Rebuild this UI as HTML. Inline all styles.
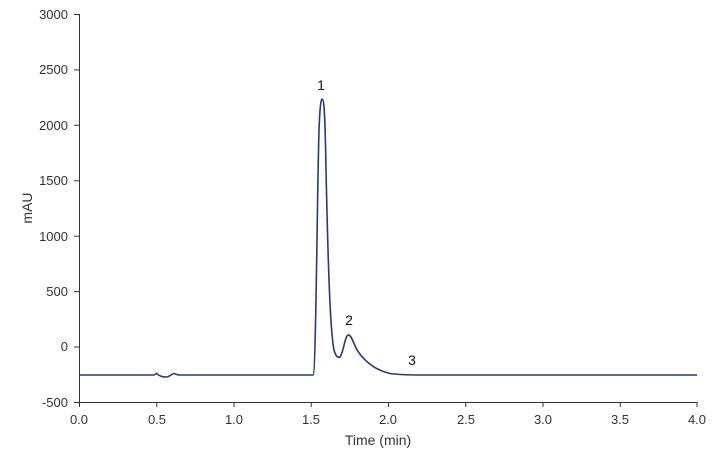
<!DOCTYPE html>
<html><head><meta charset="utf-8"><style>
html,body{margin:0;padding:0;background:#fff;}
svg{display:block;font-family:"Liberation Sans",sans-serif;}
</style></head><body>
<svg width="718" height="463" viewBox="0 0 718 463">
<g stroke="#333" stroke-width="1" fill="none">
<line x1="79.5" y1="14" x2="79.5" y2="402"/>
<line x1="79" y1="402.5" x2="697" y2="402.5"/>
<line x1="74" y1="14.5" x2="79" y2="14.5"/>
<line x1="74" y1="69.9" x2="79" y2="69.9"/>
<line x1="74" y1="125.3" x2="79" y2="125.3"/>
<line x1="74" y1="180.8" x2="79" y2="180.8"/>
<line x1="74" y1="236.2" x2="79" y2="236.2"/>
<line x1="74" y1="291.6" x2="79" y2="291.6"/>
<line x1="74" y1="347" x2="79" y2="347"/>
<line x1="74" y1="402.5" x2="79" y2="402.5"/>
<line x1="79.5" y1="402" x2="79.5" y2="407"/>
<line x1="156.75" y1="402" x2="156.75" y2="407"/>
<line x1="234" y1="402" x2="234" y2="407"/>
<line x1="311.25" y1="402" x2="311.25" y2="407"/>
<line x1="388.5" y1="402" x2="388.5" y2="407"/>
<line x1="465.75" y1="402" x2="465.75" y2="407"/>
<line x1="543" y1="402" x2="543" y2="407"/>
<line x1="620.25" y1="402" x2="620.25" y2="407"/>
<line x1="697" y1="402" x2="697" y2="407"/>
</g>
<g font-size="13" fill="#333" text-anchor="end">
<text x="68" y="19">3000</text>
<text x="68" y="74">2500</text>
<text x="68" y="130">2000</text>
<text x="68" y="185">1500</text>
<text x="68" y="241">1000</text>
<text x="68" y="296">500</text>
<text x="68" y="351">0</text>
<text x="68" y="407">-500</text>
</g>
<g font-size="13" fill="#333" text-anchor="middle">
<text x="79" y="424">0.0</text>
<text x="157" y="424">0.5</text>
<text x="234" y="424">1.0</text>
<text x="311" y="424">1.5</text>
<text x="388" y="424">2.0</text>
<text x="466" y="424">2.5</text>
<text x="543" y="424">3.0</text>
<text x="620" y="424">3.5</text>
<text x="697" y="424">4.0</text>
<text x="378" y="445" font-size="14">Time (min)</text>
<text x="321" y="90" font-size="14" fill="#111">1</text>
<text x="349" y="325" font-size="14" fill="#111">2</text>
<text x="412" y="365" font-size="14" fill="#111">3</text>
</g>
<text x="32" y="208" font-size="14" fill="#333" text-anchor="middle" transform="rotate(-90 32 208)">mAU</text>
<path d="M79,375 L154,375 C155,375 156,373 157,373.5 C159,376 162,377 166,377 C170,377 171,374 174,373.5 C176,374 177,375 180,375 L313,375 C316,375 317,200 319,130 C320,105 321,99 322,99 C324,99 325,110 326,170 C328,260 330,330 334,350 C336,357 338,358 340,357 C343,354 345,336 348,335 C351,334 353,342 357,350 C365,362 375,370 390,373.5 C400,375 410,375 420,375 L697,375" fill="none" stroke="#283a74" stroke-width="1.6"/>
</svg>
</body></html>
